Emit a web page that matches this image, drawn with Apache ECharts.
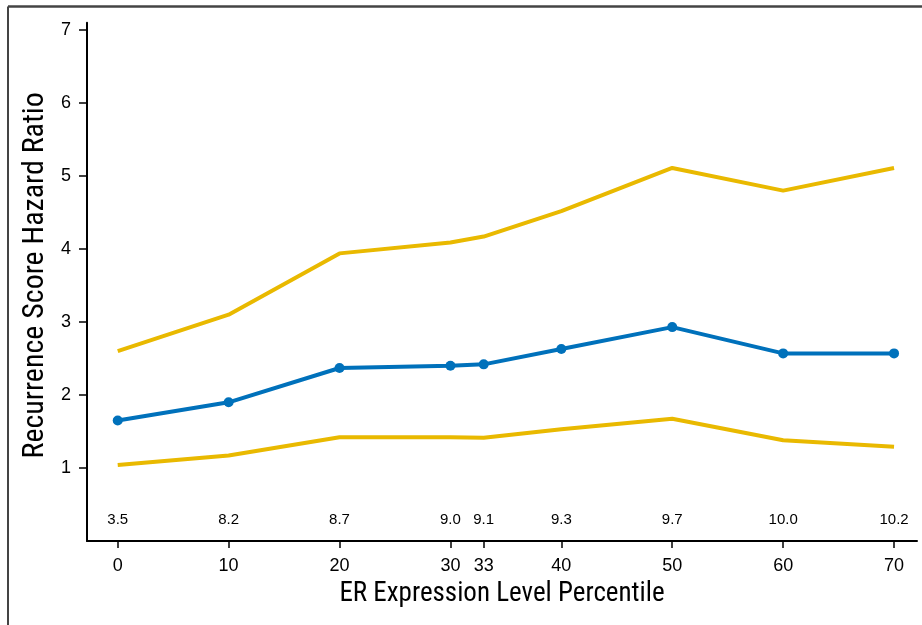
<!DOCTYPE html>
<html>
<head>
<meta charset="utf-8">
<script src="https://cdn.jsdelivr.net/npm/echarts@6/dist/echarts.min.js"></script>
<style>
html,body{margin:0;padding:0;background:#fff;}
#chart{width:922px;height:625px;}
</style>
</head>
<body>
<div id="chart"></div>
<script>
var percentiles = [0, 10, 20, 30, 33, 40, 50, 60, 70];
var erLevels = ['3.5', '8.2', '8.7', '9.0', '9.1', '9.3', '9.7', '10.0', '10.2'];
var hazardRatio = [1.65, 1.90, 2.37, 2.40, 2.42, 2.63, 2.93, 2.57, 2.57];
var upperCI = [2.60, 3.10, 3.94, 4.09, 4.17, 4.52, 5.11, 4.80, 5.11];
var lowerCI = [1.04, 1.17, 1.42, 1.42, 1.415, 1.53, 1.675, 1.38, 1.29];
var yTicks = [1, 2, 3, 4, 5, 6, 7];

var BLUE = '#0071bb';
var GOLD = '#e9b900';
var tickFont = 'Liberation Sans, Arial, Helvetica, sans-serif';
var titleFont = 'Liberation Sans Narrow, Roboto Condensed, Roboto, sans-serif';

function pairs(ys) { return percentiles.map(function (x, i) { return [x, ys[i]]; }); }
var labelRow = 0.29;

var chart = echarts.init(document.getElementById('chart'), null, { renderer: 'canvas' });
chart.setOption({
  animation: false,
  backgroundColor: '#ffffff',
  grid: { left: 87, right: 5, top: 22.7, bottom: 84, containLabel: false },
  xAxis: {
    type: 'value', min: -2.77, max: 72.07,
    name: 'ER Expression Level Percentile', nameLocation: 'middle', nameGap: 40,
    nameTextStyle: { fontFamily: titleFont, fontSize: 27, color: '#000' },
    axisLine: { show: true, onZero: false, lineStyle: { color: '#000', width: 2 } },
    axisTick: { show: true, customValues: percentiles, length: 7, lineStyle: { color: '#000', width: 1.5 } },
    axisLabel: { customValues: percentiles, fontFamily: tickFont, fontSize: 18, color: '#000', margin: 16 },
    splitLine: { show: false }
  },
  yAxis: {
    type: 'value', min: 0, max: 7.1,
    name: 'Recurrence Score Hazard Ratio', nameLocation: 'middle', nameGap: 34, nameRotate: 90,
    nameTextStyle: { fontFamily: titleFont, fontSize: 30, color: '#000', padding: [0, 0, 0, 13] },
    axisLine: { show: true, onZero: false, lineStyle: { color: '#000', width: 2 } },
    axisTick: { show: true, customValues: yTicks, length: 8, lineStyle: { color: '#000', width: 1.5 } },
    axisLabel: { customValues: yTicks, fontFamily: tickFont, fontSize: 18, color: '#000', margin: 16 },
    splitLine: { show: false }
  },
  graphic: [
    { type: 'line', shape: { x1: 8, y1: 6.5, x2: 922, y2: 6.5 }, style: { stroke: '#444', lineWidth: 2.5 } },
    { type: 'line', shape: { x1: 8, y1: 6.5, x2: 8, y2: 625 }, style: { stroke: '#444', lineWidth: 2 } }
  ],
  series: [
    { type: 'line', data: pairs(upperCI), symbol: 'none', lineStyle: { color: GOLD, width: 4 }, z: 2 },
    { type: 'line', data: pairs(lowerCI), symbol: 'none', lineStyle: { color: GOLD, width: 4 }, z: 2 },
    { type: 'line', data: pairs(hazardRatio), symbol: 'circle', symbolSize: 10,
      itemStyle: { color: BLUE }, lineStyle: { color: BLUE, width: 4 }, z: 3 },
    { type: 'scatter', symbolSize: 1, silent: true,
      itemStyle: { color: 'rgba(0,0,0,0)', opacity: 1 },
      data: percentiles.map(function (x, i) { return { value: [x, labelRow], name: erLevels[i] }; }),
      label: { show: true, position: 'inside', opacity: 1, formatter: function (p) { return p.name; },
        fontFamily: tickFont, fontSize: 15, color: '#000', textBorderWidth: 0 } }
  ]
});
</script>
</body>
</html>
